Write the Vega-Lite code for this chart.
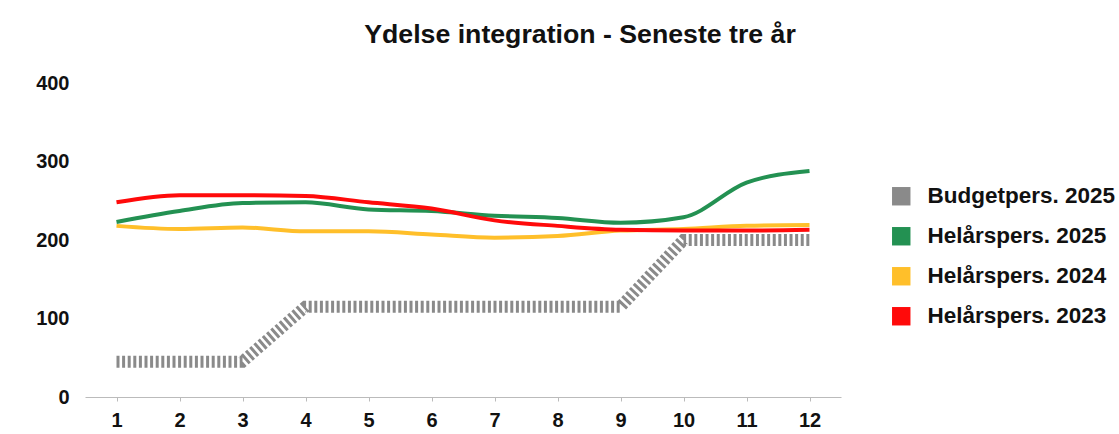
{
  "$schema": "https://vega.github.io/schema/vega-lite/v6.json",
  "autosize": "none",
  "width": 756,
  "height": 314,
  "padding": {"left": 85, "top": 83, "right": 278, "bottom": 37},
  "background": "white",
  "config": {"view": {"stroke": null}, "font": "Liberation Sans"},
  "title": {
    "text": "Ydelse integration - Seneste tre år",
    "fontSize": 26.7,
    "fontWeight": "bold",
    "color": "#111111",
    "anchor": "middle",
    "dx": 117,
    "offset": 24
  },
  "data": {
    "values": [
      {"m": 1, "s": "Budgetpers. 2025", "v": 45},
      {"m": 2, "s": "Budgetpers. 2025", "v": 45},
      {"m": 3, "s": "Budgetpers. 2025", "v": 45},
      {"m": 4, "s": "Budgetpers. 2025", "v": 115},
      {"m": 5, "s": "Budgetpers. 2025", "v": 115},
      {"m": 6, "s": "Budgetpers. 2025", "v": 115},
      {"m": 7, "s": "Budgetpers. 2025", "v": 115},
      {"m": 8, "s": "Budgetpers. 2025", "v": 115},
      {"m": 9, "s": "Budgetpers. 2025", "v": 115},
      {"m": 10, "s": "Budgetpers. 2025", "v": 200},
      {"m": 11, "s": "Budgetpers. 2025", "v": 200},
      {"m": 12, "s": "Budgetpers. 2025", "v": 200},
      {"m": 1, "s": "Helårspers. 2024", "v": 218},
      {"m": 2, "s": "Helårspers. 2024", "v": 214},
      {"m": 3, "s": "Helårspers. 2024", "v": 216},
      {"m": 4, "s": "Helårspers. 2024", "v": 211},
      {"m": 5, "s": "Helårspers. 2024", "v": 211},
      {"m": 6, "s": "Helårspers. 2024", "v": 207},
      {"m": 7, "s": "Helårspers. 2024", "v": 203},
      {"m": 8, "s": "Helårspers. 2024", "v": 205},
      {"m": 9, "s": "Helårspers. 2024", "v": 212},
      {"m": 10, "s": "Helårspers. 2024", "v": 214},
      {"m": 11, "s": "Helårspers. 2024", "v": 218},
      {"m": 12, "s": "Helårspers. 2024", "v": 219},
      {"m": 1, "s": "Helårspers. 2025", "v": 223},
      {"m": 2, "s": "Helårspers. 2025", "v": 237},
      {"m": 3, "s": "Helårspers. 2025", "v": 247},
      {"m": 4, "s": "Helårspers. 2025", "v": 248},
      {"m": 5, "s": "Helårspers. 2025", "v": 239},
      {"m": 6, "s": "Helårspers. 2025", "v": 237},
      {"m": 7, "s": "Helårspers. 2025", "v": 231},
      {"m": 8, "s": "Helårspers. 2025", "v": 228},
      {"m": 9, "s": "Helårspers. 2025", "v": 222},
      {"m": 10, "s": "Helårspers. 2025", "v": 229},
      {"m": 11, "s": "Helårspers. 2025", "v": 273},
      {"m": 12, "s": "Helårspers. 2025", "v": 288},
      {"m": 1, "s": "Helårspers. 2023", "v": 248},
      {"m": 2, "s": "Helårspers. 2023", "v": 257},
      {"m": 3, "s": "Helårspers. 2023", "v": 257},
      {"m": 4, "s": "Helårspers. 2023", "v": 256},
      {"m": 5, "s": "Helårspers. 2023", "v": 248},
      {"m": 6, "s": "Helårspers. 2023", "v": 240},
      {"m": 7, "s": "Helårspers. 2023", "v": 225},
      {"m": 8, "s": "Helårspers. 2023", "v": 218},
      {"m": 9, "s": "Helårspers. 2023", "v": 213},
      {"m": 10, "s": "Helårspers. 2023", "v": 212},
      {"m": 11, "s": "Helårspers. 2023", "v": 212},
      {"m": 12, "s": "Helårspers. 2023", "v": 213}
    ]
  },
  "encoding": {
    "x": {
      "field": "m",
      "type": "ordinal",
      "scale": {"type": "point", "padding": 0.5},
      "axis": {
        "title": null,
        "labelAngle": 0,
        "labelFontSize": 20,
        "labelFontWeight": "bold",
        "labelColor": "#111111",
        "domainColor": "#bbbbbb",
        "tickColor": "#bbbbbb",
        "tickSize": 4,
        "labelPadding": 9
      }
    },
    "y": {
      "field": "v",
      "type": "quantitative",
      "scale": {"domain": [0, 400]},
      "axis": {
        "title": null,
        "values": [0, 100, 200, 300, 400],
        "grid": false,
        "domain": false,
        "ticks": false,
        "labelFontSize": 20,
        "labelFontWeight": "bold",
        "labelColor": "#111111",
        "labelPadding": 16
      }
    },
    "color": {
      "field": "s",
      "type": "nominal",
      "scale": {
        "domain": ["Budgetpers. 2025", "Helårspers. 2025", "Helårspers. 2024", "Helårspers. 2023"],
        "range": ["#8a8a8a", "#239152", "#ffbf2a", "#ff0a0a"]
      },
      "legend": {
        "title": null,
        "orient": "none",
        "legendX": 805,
        "legendY": 102,
        "symbolType": "square",
        "symbolSize": 340,
        "symbolStrokeWidth": 0,
        "labelFontSize": 22.5,
        "labelFontWeight": "bold",
        "labelColor": "#111111",
        "labelOffset": 15,
        "labelLimit": 400,
        "rowPadding": 17,
        "encode": {
          "symbols": {
            "update": {
              "fill": {"scale": "color", "field": "value"},
              "stroke": {"value": "transparent"},
              "opacity": {"value": 1}
            }
          }
        }
      }
    }
  },
  "layer": [
    {
      "transform": [{"filter": "datum.s === 'Budgetpers. 2025'"}],
      "mark": {"type": "line", "strokeWidth": 12, "strokeDash": [3, 2.6], "interpolate": "linear"}
    },
    {
      "transform": [{"filter": "datum.s !== 'Budgetpers. 2025'"}],
      "mark": {"type": "line", "strokeWidth": 4, "interpolate": "monotone"},
      "encoding": {
        "order": {"field": "m", "type": "quantitative"}
      }
    }
  ]
}
